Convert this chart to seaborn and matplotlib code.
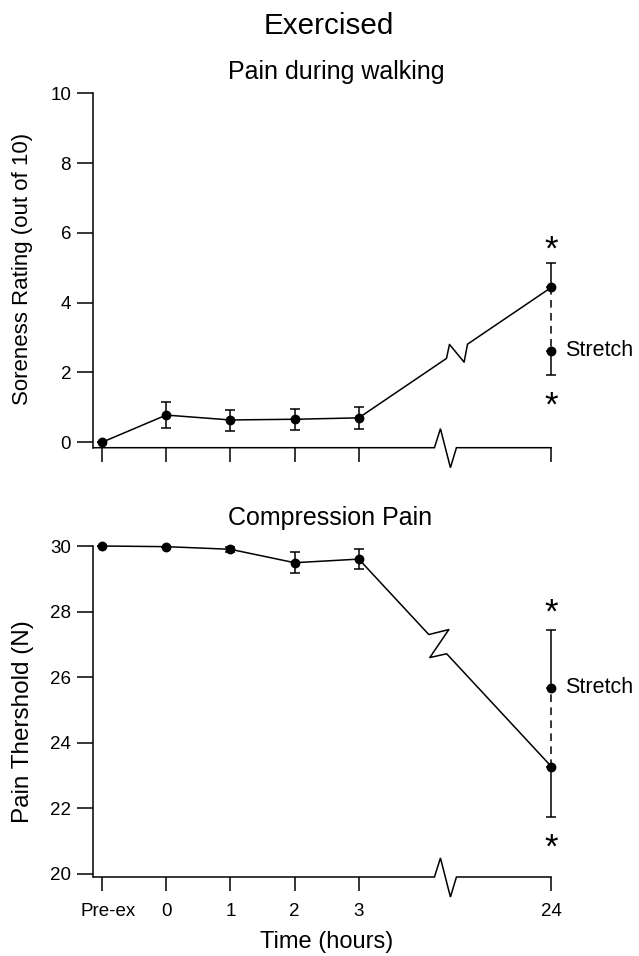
import numpy as np
import pandas as pd
import matplotlib
matplotlib.use("Agg")
import matplotlib.pyplot as plt
import matplotlib.transforms as mtransforms
import seaborn as sns

sns.set_style("ticks")
plt.rcParams["font.family"] = ["Liberation Sans", "DejaVu Sans"]
plt.rcParams.update({
    "text.color": "black",
    "axes.labelcolor": "black",
    "axes.edgecolor": "black",
    "xtick.color": "black",
    "ytick.color": "black",
})

# ---- data -------------------------------------------------------------
time_labels = ["Pre-ex", "0", "1", "2", "3", "24"]
time_pos = [0, 1, 2, 3, 4, 7]

walk_mean = [0.0, 0.78, 0.64, 0.66, 0.70, 4.44]
walk_err_lo = [0.0, 0.36, 0.31, 0.32, 0.33, 0.0]
walk_err_hi = [0.0, 0.37, 0.29, 0.29, 0.32, 0.69]
walk_stretch = 2.62
walk_stretch_lo = 0.69
walk_stretch_hi = 0.0
walk_stars = [5.68, 1.21]

comp_mean = [30.0, 29.98, 29.90, 29.49, 29.60, 23.27]
comp_err_lo = [0.0, 0.0, 0.08, 0.32, 0.30, 1.53]
comp_err_hi = [0.0, 0.0, 0.08, 0.32, 0.31, 0.0]
comp_stretch = 25.68
comp_stretch_lo = 0.0
comp_stretch_hi = 1.76
comp_stars = [28.15, 20.98]

# ---- figure layout ----------------------------------------------------
W, H = 639, 956
fig = plt.figure(figsize=(W / 100, H / 100), dpi=100)

XLIM = (-0.135, 7.3)
left = 93.3 / W
width = (XLIM[1] - XLIM[0]) * 64.2 / W

ax1 = fig.add_axes([left, 1 - 447.7 / H, width, (447.7 - 93.3) / H])
ax2 = fig.add_axes([left, 1 - 877 / H, width, (877 - 546) / H])

LW = 1.1
MS = 50
CAP = 3.3


def to_data(ax, pts_disp):
    return ax.transData.inverted().transform(np.asarray(pts_disp, float))


def broken_line(ax, x0, y0, x1, y1, frac, shape):
    """Vertices of a segment with a zig-zag break drawn in pixel space."""
    p0 = ax.transData.transform((x0, y0))
    p1 = ax.transData.transform((x1, y1))
    m = p0 + frac * (p1 - p0)
    u = (p1 - p0) / np.hypot(*(p1 - p0))
    half = shape["half"]
    a = m - half * u
    d = m + half * u
    b = a + np.array(shape["b"])
    c = (a if shape["c_from"] == "a" else d) + np.array(shape["c"])
    return to_data(ax, [a, b, c, d])


def broken_axis(ax, xb):
    """Bottom axis line with a break mark."""
    y0 = ax.get_ylim()[0]
    pl = ax.transData.transform((XLIM[0], y0))
    pr = ax.transData.transform((7, y0))
    pm = ax.transData.transform((xb, y0))
    offs = [(-11, 0), (-5, 19), (5, -20), (11, 0)]
    pts = [pl] + [pm + np.array(o) for o in offs] + [pr]
    xy = to_data(ax, pts)
    ax.plot(xy[:, 0], xy[:, 1], color="black", lw=LW, clip_on=False,
            solid_joinstyle="miter", zorder=3)


def panel(ax, mean, lo, hi, s_val, s_lo, s_hi, stars, ylim, yticks,
          frac, shape):
    ax.set_xlim(*XLIM)
    ax.set_ylim(*ylim)

    # main time course, with the break on the last segment
    brk = broken_line(ax, time_pos[4], mean[4], time_pos[5], mean[5], frac, shape)
    line_x = list(time_pos[:5]) + list(brk[:, 0]) + [time_pos[5]]
    line_y = list(mean[:5]) + list(brk[:, 1]) + [mean[5]]
    sns.lineplot(x=line_x, y=line_y, sort=False, color="black", lw=LW,
                 ax=ax, clip_on=False, estimator=None)

    ax.errorbar(time_pos, mean, yerr=[lo, hi], fmt="none", ecolor="black",
                elinewidth=LW, capsize=CAP, capthick=LW, clip_on=False)
    ax.errorbar([time_pos[5]], [s_val], yerr=[[s_lo], [s_hi]], fmt="none",
                ecolor="black", elinewidth=LW, capsize=CAP, capthick=LW,
                clip_on=False)
    ax.plot([time_pos[5], time_pos[5]], [mean[5], s_val], color="black",
            lw=LW, ls=(0, (5, 3.5)), clip_on=False)

    pts = pd.DataFrame({"t": time_pos + [time_pos[5]], "v": list(mean) + [s_val]})
    sns.scatterplot(data=pts, x="t", y="v", color="black", s=MS,
                    edgecolor="black", linewidth=0, ax=ax, clip_on=False,
                    zorder=5)

    ax.annotate("Stretch", xy=(time_pos[5], s_val), xytext=(10, 0),
                textcoords="offset points", va="center", ha="left",
                fontsize=15.5)
    for yv in stars:
        ax.annotate("*", xy=(time_pos[5], yv), xytext=(0, -4.5),
                    textcoords="offset points", ha="center", va="center",
                    fontsize=25)

    ax.set_xticks(time_pos)
    ax.set_yticks(yticks)
    ax.tick_params(axis="y", direction="out", length=11.5, width=LW,
                   pad=4.5, labelsize=13.5)
    ax.tick_params(axis="x", direction="out", length=10, width=LW,
                   pad=9, labelsize=13.5)
    for side in ["top", "right", "bottom"]:
        ax.spines[side].set_visible(False)
    ax.spines["left"].set_linewidth(LW)
    ax.set_xlabel("")
    ax.set_ylabel("")
    broken_axis(ax, 5.35)


shape_top = {"half": 12.7, "b": (3.0, 14.0), "c": (-3.4, -18.0), "c_from": "d"}
shape_bot = {"half": 13.1, "b": (20.0, 5.0), "c": (1.0, -23.0), "c_from": "a"}

panel(ax1, walk_mean, walk_err_lo, walk_err_hi, walk_stretch,
      walk_stretch_lo, walk_stretch_hi, walk_stars, (-0.155, 10),
      [0, 2, 4, 6, 8, 10], 0.51, shape_top)
panel(ax2, comp_mean, comp_err_lo, comp_err_hi, comp_stretch,
      comp_stretch_lo, comp_stretch_hi, comp_stars, (19.9, 30),
      [20, 22, 24, 26, 28, 30], 0.41, shape_bot)

ax1.set_xticklabels([])
ax2.set_xticklabels(time_labels)
# nudge the first category label to the right
first = ax2.get_xticklabels()[0]
first.set_transform(first.get_transform() +
                    mtransforms.ScaledTranslation(6.5 / 100, 0, fig.dpi_scale_trans))

# ---- titles and axis labels ----------------------------------------------
fig.text(329 / W, 1 - 26 / H, "Exercised", ha="center", va="center",
         fontsize=21.3)
fig.text(228 / W, 1 - 72 / H, "Pain during walking", ha="left", va="center",
         fontsize=18)
fig.text(228 / W, 1 - 518 / H, "Compression Pain", ha="left", va="center",
         fontsize=18)
fig.text(326.5 / W, 1 - 942 / H, "Time (hours)", ha="center", va="center",
         fontsize=17)
fig.text(23 / W, 1 - 269 / H, "Soreness Rating (out of 10)", rotation=90,
         ha="center", va="center", fontsize=16)
fig.text(23 / W, 1 - 722 / H, "Pain Thershold (N)", rotation=90,
         ha="center", va="center", fontsize=17.5)

fig.savefig("out.png", dpi=100)
